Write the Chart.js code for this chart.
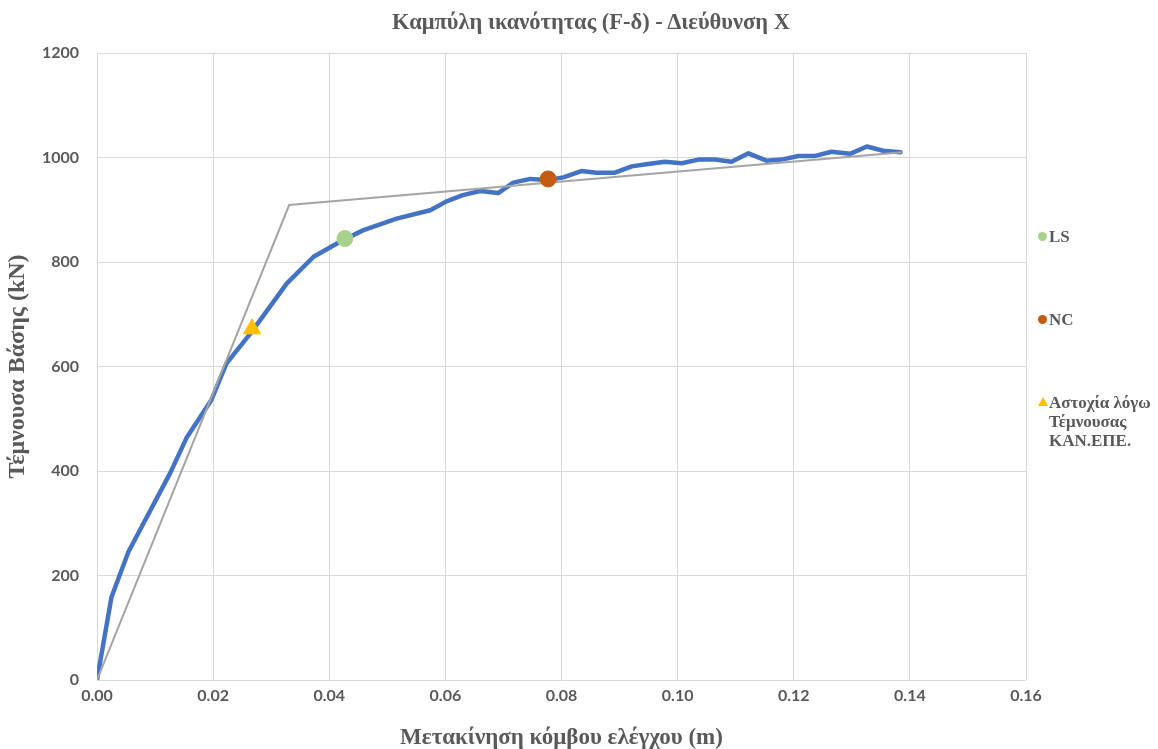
<!DOCTYPE html>
<html>
<head>
<meta charset="utf-8">
<script src="https://cdn.jsdelivr.net/npm/chart.js@4"></script>
<style>
html,body{margin:0;padding:0;background:#fff;}
#wrap{position:relative;width:1158px;height:749px;overflow:hidden;}
canvas{position:absolute;left:0;top:0;}
.lg{position:absolute;font-family:"Liberation Serif","Times New Roman",serif;font-weight:bold;font-size:17px;color:#595959;line-height:19px;}
.dot{position:absolute;width:9px;height:9px;border-radius:50%;}
.tri{position:absolute;width:0;height:0;border-left:5px solid transparent;border-right:5px solid transparent;border-bottom:9px solid #FFC000;}
#title{position:absolute;left:391px;width:400px;top:8px;text-align:center;white-space:nowrap;font-family:"Liberation Serif","Times New Roman",serif;font-weight:bold;font-size:22.5px;line-height:28px;color:#595959;}
</style>
</head>
<body>
<div id="wrap">
<canvas id="c" width="1158" height="749"></canvas>
<div id="title">Καμπύλη ικανότητας (F-δ) - Διεύθυνση X</div>
<div class="dot" style="left:1038px;top:232px;background:#A9D18E;"></div>
<div class="lg" style="left:1049px;top:227px;">LS</div>
<div class="dot" style="left:1038px;top:315px;background:#C55A11;"></div>
<div class="lg" style="left:1049px;top:310px;">NC</div>
<div class="tri" style="left:1038px;top:397px;"></div>
<div class="lg" style="left:1049px;top:393px;">Αστοχία λόγω<br>Τέμνουσας<br>ΚΑΝ.ΕΠΕ.</div>
</div>
<script>
// Capacity curve (displacement m, base shear kN)
const curveX = [0,0.0025,0.0054,0.0074,0.0126,0.0154,0.0197,0.0223,0.0264,0.0327,0.0373,0.0424,0.0459,0.0516,0.0574,0.0602,0.0630,0.0660,0.0691,0.0717,0.0746,0.0777,0.0803,0.0834,0.0860,0.0892,0.0921,0.0946,0.0978,0.1007,0.1036,0.1064,0.1093,0.1122,0.1153,0.1179,0.1208,0.1237,0.1265,0.1297,0.1326,0.1354,0.1384];
const curveY = [0,159,245,287,396,463,536,606,663,759,810,842,861,883,899,916,928,936,932,952,959,957,962,974,971,971,983,987,992,989,996,996,992,1008,994,996,1003,1003,1011,1007,1021,1013,1010];
// Bilinear idealisation
const bilinX = [0,0.0331,0.1387];
const bilinY = [0,909,1010];
// Performance points
const lsPoint = [0.0427,845];
const ncPoint = [0.0777,959];
const shearPoint = [0.0267,672];
// Axis tick settings
const xTicks = [0,0.02,0.04,0.06,0.08,0.10,0.12,0.14,0.16];
const yTicks = [0,200,400,600,800,1000,1200];

const toPts = (xs, ys) => xs.map((x,i)=>({x:x,y:ys[i]}));
const tickFont = {family:"Lato, 'Liberation Sans', sans-serif", size:16, weight:'bold'};
const serif = "'Liberation Serif','Times New Roman',serif";

new Chart(document.getElementById('c'), {
  type:'scatter',
  data:{datasets:[
    {label:'LS', data:[{x:lsPoint[0],y:lsPoint[1]}], pointRadius:8, pointBackgroundColor:'#A9D18E', pointBorderColor:'#A9D18E', showLine:false},
    {label:'NC', data:[{x:ncPoint[0],y:ncPoint[1]}], pointRadius:8, pointBackgroundColor:'#C55A11', pointBorderColor:'#C55A11', showLine:false},
    {label:'Αστοχία λόγω Τέμνουσας ΚΑΝ.ΕΠΕ.', data:[{x:shearPoint[0],y:shearPoint[1]}], pointStyle:'triangle', pointRadius:10, pointBackgroundColor:'#FFC000', pointBorderColor:'#FFC000', showLine:false},
    {label:'Διγραμμική', data:toPts(bilinX,bilinY), showLine:true, borderColor:'#A5A5A5', borderWidth:2, pointRadius:0, fill:false},
    {label:'Καμπύλη', data:toPts(curveX,curveY), showLine:true, borderColor:'#4472C4', borderWidth:4.5, pointRadius:0, fill:false, borderJoinStyle:'round', borderCapStyle:'round'}
  ]},
  options:{
    responsive:false, animation:false,
    layout:{padding:{left:0,right:132,top:53,bottom:0}},
    plugins:{
      legend:{display:false}, tooltip:{enabled:false}, title:{display:false}
    },
    scales:{
      x:{type:'linear', min:0, max:0.16,
        afterBuildTicks:(s)=>{s.ticks = xTicks.map(v=>({value:v}));},
        afterFit:(s)=>{s.height = 69;},
        ticks:{color:'#595959', font:tickFont, padding:6, callback:(v)=>v.toFixed(2)},
        grid:{color:'#D9D9D9', drawTicks:false}, border:{display:false},
        title:{display:true, text:'Μετακίνηση κόμβου ελέγχου (m)', color:'#595959', font:{family:serif,size:23,weight:'bold'}, padding:{top:4,bottom:-3}}
      },
      y:{type:'linear', min:0, max:1200,
        afterBuildTicks:(s)=>{s.ticks = yTicks.map(v=>({value:v}));},
        afterFit:(s)=>{s.width = 97;},
        ticks:{color:'#595959', font:tickFont, padding:18, callback:(v)=>String(v)},
        grid:{color:'#D9D9D9', drawTicks:false}, border:{display:false},
        title:{display:true, text:'Τέμνουσα Βάσης (kN)', color:'#595959', font:{family:serif,size:24,weight:'bold'}, padding:{top:3,bottom:0}}
      }
    }
  }
});
</script>
</body>
</html>
